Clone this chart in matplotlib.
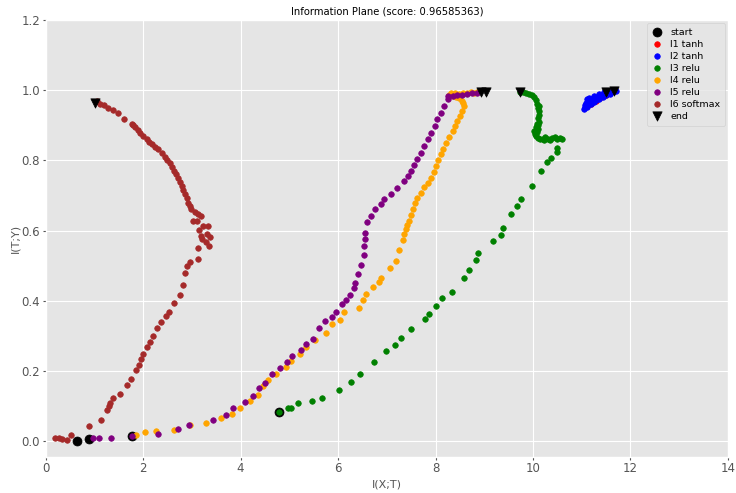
import matplotlib
matplotlib.use("Agg")
import matplotlib.pyplot as plt

title = "Information Plane (score: 0.96585363)"

start_x = [0.64, 0.90, 1.77, 4.79]
start_y = [0.001, 0.006, 0.015, 0.082]

end_x = [1.02, 8.93, 9.03, 9.74, 11.49, 11.67]
end_y = [0.965, 0.994, 0.996, 0.996, 0.995, 0.998]

l1_x = [11.10, 11.20, 11.30, 11.40, 11.50, 11.60]
l1_y = [0.955, 0.962, 0.970, 0.980, 0.988, 0.994]

l2_x = [11.05, 11.06, 11.08, 11.10, 11.12, 11.15, 11.18, 11.20, 11.22, 11.25, 11.28,
        11.30, 11.33, 11.36, 11.40, 11.43, 11.46, 11.50, 11.55, 11.60, 11.65, 11.70,
        11.10, 11.15, 11.35, 11.25, 11.45, 11.07, 11.52, 11.58]
l2_y = [0.948, 0.958, 0.965, 0.952, 0.968, 0.960, 0.972, 0.962, 0.975, 0.968, 0.978,
        0.972, 0.982, 0.976, 0.986, 0.982, 0.990, 0.988, 0.993, 0.994, 0.997, 0.998,
        0.975, 0.978, 0.990, 0.985, 0.994, 0.952, 0.996, 0.990]

l3_x = [4.79, 4.97, 5.04, 5.18, 5.46, 5.68, 6.01, 6.27, 6.46, 6.74, 6.99, 7.16, 7.29,
        7.50, 7.78, 7.86, 8.02, 8.13, 8.34, 8.58, 8.68, 8.83, 8.87, 9.18, 9.34, 9.38,
        9.54, 9.67, 9.76, 9.98, 10.16, 10.28, 10.36, 10.49, 10.49,
        10.60, 10.55, 10.50, 10.45, 10.40, 10.35, 10.30, 10.25, 10.20, 10.15, 10.10,
        10.06, 10.05, 10.08, 10.10, 10.10, 10.12, 10.11, 10.12, 10.12, 10.11, 10.09,
        10.06, 10.02, 9.97, 9.92, 9.86, 9.80, 9.74, 10.03, 10.07, 10.09, 10.13, 10.22]
l3_y = [0.082, 0.093, 0.093, 0.109, 0.115, 0.122, 0.146, 0.167, 0.191, 0.224, 0.255,
        0.273, 0.294, 0.318, 0.349, 0.363, 0.385, 0.408, 0.425, 0.466, 0.488, 0.517,
        0.535, 0.570, 0.586, 0.607, 0.646, 0.671, 0.689, 0.728, 0.769, 0.796, 0.806,
        0.825, 0.835,
        0.862, 0.865, 0.860, 0.868, 0.865, 0.858, 0.862, 0.868, 0.862, 0.860, 0.865,
        0.870, 0.875, 0.880, 0.890, 0.900, 0.910, 0.920, 0.930, 0.940, 0.950, 0.962,
        0.972, 0.980, 0.986, 0.990, 0.993, 0.995, 0.996, 0.885, 0.895, 0.905, 0.955, 0.858]

l4_x = [1.85, 2.03, 2.27, 2.63, 2.97, 3.29, 3.59, 3.82, 3.99, 4.19, 4.36, 4.47, 4.56,
        4.73, 4.93, 5.04, 5.21, 5.34, 5.53, 5.76, 5.88, 6.04, 6.12, 6.43, 6.52, 6.58,
        6.72, 6.84, 6.89, 7.06, 7.19, 7.26, 7.34, 7.36, 7.39, 7.42, 7.46, 7.50, 7.53,
        7.58, 7.63, 7.70, 7.77, 7.84, 7.91, 7.96, 8.01, 8.06, 8.11, 8.16, 8.21, 8.28,
        8.35, 8.40, 8.45, 8.50, 8.55, 8.59, 8.57, 8.55, 8.49, 8.42, 8.35, 8.28, 8.32,
        8.40, 8.48, 8.56, 8.64, 8.72, 8.80, 8.86]
l4_y = [0.018, 0.025, 0.028, 0.032, 0.044, 0.052, 0.064, 0.077, 0.095, 0.114, 0.131,
        0.156, 0.175, 0.191, 0.211, 0.228, 0.247, 0.267, 0.289, 0.309, 0.333, 0.346,
        0.367, 0.379, 0.402, 0.418, 0.440, 0.453, 0.464, 0.494, 0.513, 0.545, 0.573,
        0.590, 0.604, 0.616, 0.628, 0.645, 0.661, 0.678, 0.694, 0.708, 0.723, 0.737,
        0.751, 0.767, 0.784, 0.801, 0.818, 0.834, 0.851, 0.868, 0.884, 0.898, 0.913,
        0.927, 0.941, 0.955, 0.963, 0.970, 0.977, 0.982, 0.985, 0.988, 0.991, 0.992,
        0.990, 0.993, 0.992, 0.994, 0.993, 0.995]

l5_x = [0.98, 1.10, 1.34, 1.77, 2.31, 2.71, 2.95, 3.44, 3.71, 3.85, 4.09, 4.26, 4.37,
        4.51, 4.65, 4.80, 4.96, 5.06, 5.23, 5.35, 5.49, 5.60, 5.74, 5.87, 5.96, 6.08,
        6.16, 6.24, 6.32, 6.34, 6.40, 6.47, 6.53, 6.54, 6.55, 6.56, 6.60, 6.68, 6.75,
        6.88, 6.95, 7.09, 7.22, 7.36, 7.43, 7.50, 7.56, 7.63, 7.70, 7.77, 7.84, 7.91,
        7.98, 8.04, 8.11, 8.18, 8.25, 8.25, 8.35, 8.45, 8.55, 8.65, 8.75, 8.85]
l5_y = [0.008, 0.009, 0.009, 0.015, 0.019, 0.034, 0.046, 0.060, 0.075, 0.093, 0.110,
        0.128, 0.152, 0.165, 0.190, 0.209, 0.224, 0.243, 0.260, 0.276, 0.292, 0.321,
        0.341, 0.354, 0.369, 0.391, 0.402, 0.417, 0.435, 0.451, 0.476, 0.501, 0.531,
        0.556, 0.575, 0.594, 0.623, 0.642, 0.661, 0.675, 0.689, 0.704, 0.720, 0.742,
        0.756, 0.770, 0.786, 0.803, 0.822, 0.841, 0.860, 0.879, 0.898, 0.917, 0.936,
        0.955, 0.974, 0.984, 0.985, 0.986, 0.988, 0.989, 0.991, 0.993]

l6_x = [0.20, 0.27, 0.33, 0.44, 0.53, 0.90, 1.13, 1.26, 1.31, 1.33, 1.39, 1.52, 1.66,
        1.76, 1.86, 1.91, 1.95, 2.00, 2.07, 2.15, 2.20, 2.29, 2.37, 2.46, 2.54, 2.64,
        2.76, 2.81, 2.87, 2.90, 2.97, 3.12, 3.13, 3.30, 3.36, 3.38, 3.21, 3.19, 3.32,
        3.15, 3.34, 3.23, 3.02, 3.10, 3.19, 3.13, 3.06, 2.99, 2.96, 2.93, 2.90, 2.86,
        2.82, 2.79, 2.75, 2.72, 2.68, 2.64, 2.60, 2.55, 2.50, 2.45, 2.38, 2.31, 2.25,
        2.18, 2.12, 2.07, 2.00, 1.94, 1.89, 1.84, 1.80, 1.77, 1.60, 1.49, 1.39, 1.29,
        1.19, 1.12, 1.05]
l6_y = [0.008, 0.008, 0.006, 0.003, 0.017, 0.043, 0.060, 0.087, 0.100, 0.108, 0.122,
        0.134, 0.158, 0.177, 0.202, 0.216, 0.234, 0.247, 0.269, 0.282, 0.298, 0.321,
        0.339, 0.357, 0.367, 0.392, 0.417, 0.446, 0.478, 0.500, 0.511, 0.520, 0.549,
        0.568, 0.556, 0.583, 0.577, 0.585, 0.590, 0.602, 0.612, 0.613, 0.627, 0.628,
        0.642, 0.647, 0.654, 0.661, 0.670, 0.680, 0.692, 0.704, 0.716, 0.727, 0.739,
        0.751, 0.760, 0.770, 0.781, 0.792, 0.802, 0.811, 0.822, 0.832, 0.839, 0.846,
        0.853, 0.860, 0.870, 0.879, 0.887, 0.894, 0.900, 0.905, 0.919, 0.936, 0.944,
        0.951, 0.957, 0.960, 0.970]

plt.style.use("ggplot")
fig = plt.figure(figsize=(7.36, 4.93), dpi=100)
ax = fig.add_subplot(111)
fig.subplots_adjust(left=0.062, right=0.989, top=0.959, bottom=0.073)

ax.scatter(start_x, start_y, s=42, c="black", marker="o", label="start", zorder=2)
layers = [
    (l1_x, l1_y, "red", "l1 tanh"),
    (l2_x, l2_y, "blue", "l2 tanh"),
    (l3_x, l3_y, "green", "l3 relu"),
    (l4_x, l4_y, "orange", "l4 relu"),
    (l5_x, l5_y, "purple", "l5 relu"),
    (l6_x, l6_y, "brown", "l6 softmax"),
]
for xs, ys, col, lab in layers:
    ax.scatter(xs, ys, s=16, c=col, marker="o", label=lab, zorder=3)
ax.scatter(end_x, end_y, s=45, c="black", marker="v", label="end", zorder=4)

ax.set_xlim(0, 14)
ax.set_ylim(-0.046, 1.2)
ax.set_title(title, fontsize=7.2, pad=4)
ax.set_xlabel("I(X;T)", fontsize=8, labelpad=3)
ax.set_ylabel("I(T;Y)", fontsize=8, labelpad=1)
ax.tick_params(axis="x", labelsize=8.5, length=2, pad=1.5)
ax.tick_params(axis="y", labelsize=8.5, length=2, pad=2)
ax.legend(loc="upper right", fontsize=6.8, scatterpoints=1, handlelength=1.2,
          handletextpad=0.8, labelspacing=0.32, borderpad=0.5, borderaxespad=0.3)

fig.savefig("out.png", dpi=100)
